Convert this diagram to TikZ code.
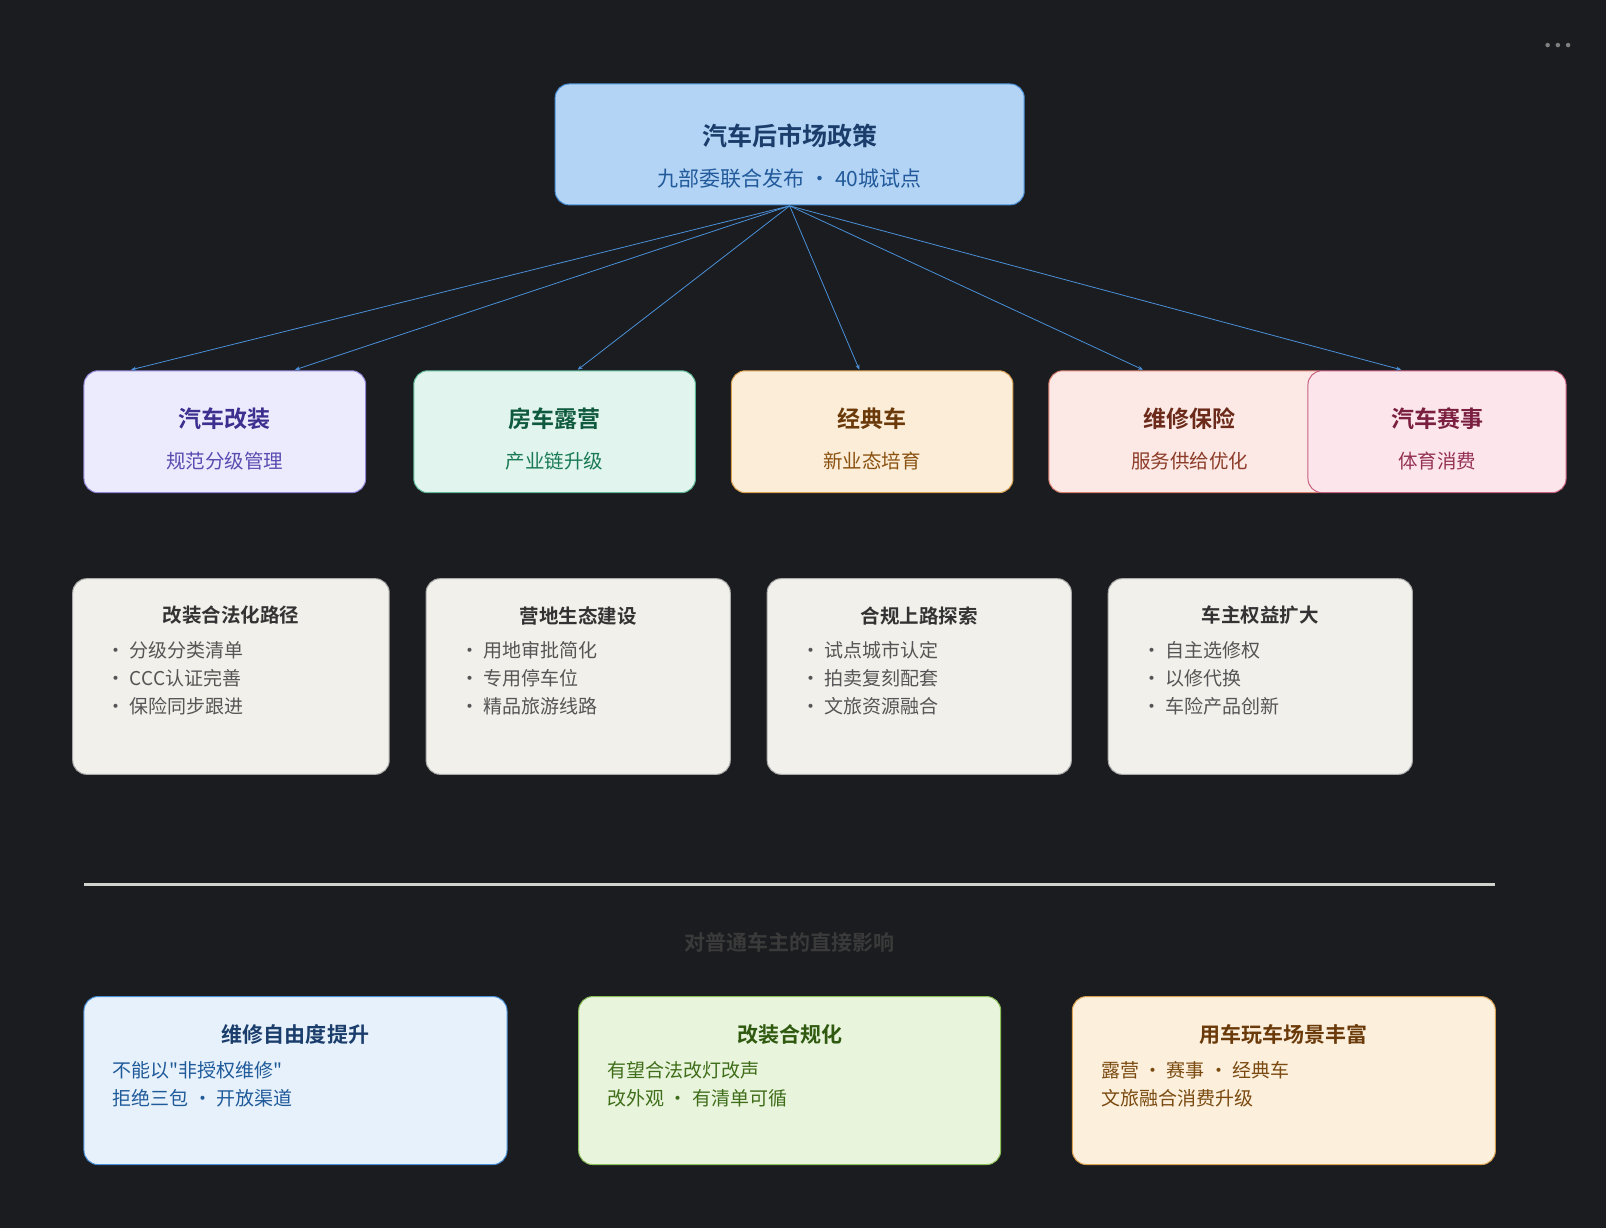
\documentclass[tikz,border=0pt]{standalone}
\usepackage{fontspec}
\newfontfamily\cjk{Noto Sans CJK SC}
\newfontfamily\cjkb{Noto Sans CJK SC Bold}
\usetikzlibrary{arrows.meta}
\definecolor{bg}{HTML}{1B1C1F}
\tikzset{
 x=1.024pt,y=-1.024pt,
 box/.style={rounded corners=14pt,line width=1pt},
 ttl/.style={font=\cjkb\fontsize{23}{28}\selectfont},
 sub/.style={font=\cjk\fontsize{19.5}{24}\selectfont},
 itm/.style={font=\cjk\fontsize{19}{28}\selectfont,align=left,anchor=north west,inner sep=0},
 arr/.style={line width=0.8pt,-{Stealth[length=5pt,width=4pt]}},
}
\begin{document}
\begin{tikzpicture}
\fill[bg] (0,0) rectangle (1568,1199);
\useasboundingbox (0,0) rectangle (1568,1199);
\foreach \i in {1511,1521,1531}{\fill[gray] (\i,44) circle (2.2);}
% top
\draw[box,fill={rgb,255:red,179;green,212;blue,245},draw={rgb,255:red,74;green,144;blue,217}] (542,82) rectangle (1000,200);
\node[font=\cjkb\fontsize{25}{30}\selectfont,text={rgb,255:red,26;green,61;blue,107}] at (771,133) {汽车后市场政策};
\node[font=\cjk\fontsize{21}{26}\selectfont,text={rgb,255:red,34;green,90;blue,155}] at (771,174) {九部委联合发布 · 40城试点};
\coordinate (top) at (771,201);
% row 2
\newcommand\rbox[8]{%
 \draw[box,fill={#5},draw={#6}] (#1,362) rectangle (#2,481);
 \node[ttl,text={#7}] at ({(#1+#2)/2},409) {#3};
 \node[sub,text={#8}] at ({(#1+#2)/2},450) {#4};}
\rbox{82}{357}{汽车改装}{规范分级管理}{rgb,255:red,236;green,235;blue,253}{rgb,255:red,143;green,134;blue,216}{rgb,255:red,60;green,47;blue,143}{rgb,255:red,90;green,75;blue,176}
\rbox{404}{679}{房车露营}{产业链升级}{rgb,255:red,225;green,245;blue,238}{rgb,255:red,93;green,184;blue,150}{rgb,255:red,15;green,90;blue,63}{rgb,255:red,26;green,122;blue,85}
\rbox{714}{989}{经典车}{新业态培育}{rgb,255:red,252;green,237;blue,216}{rgb,255:red,217;green,160;blue,80}{rgb,255:red,107;green,58;blue,10}{rgb,255:red,138;green,82;blue,16}
\rbox{1024}{1299}{维修保险}{服务供给优化}{rgb,255:red,252;green,233;blue,229}{rgb,255:red,217;green,128;blue,112}{rgb,255:red,107;green,42;blue,26}{rgb,255:red,140;green,60;blue,40}
\rbox{1277}{1529}{汽车赛事}{体育消费}{rgb,255:red,252;green,230;blue,236}{rgb,255:red,200;green,96;blue,128}{rgb,255:red,122;green,31;blue,63}{rgb,255:red,150;green,50;blue,85}
\foreach \x in {128,288,564,839,1116,1368}{\draw[arr,draw={rgb,255:red,74;green,144;blue,217}] (top) -- (\x,361);}
% row 3
\newcommand\gbox[6]{%
 \draw[box,fill={rgb,255:red,242;green,240;blue,235},draw={rgb,255:red,170;green,170;blue,170}] (#1,565) rectangle (#2,756);
 \node[font=\cjkb\fontsize{19.5}{24}\selectfont,text={rgb,255:red,51;green,51;blue,51}] at ({(#1+#2)/2},601) {#3};
 \node[itm,text={rgb,255:red,85;green,85;blue,85}] at ({#1+33},626) {· #4\\· #5\\· #6};}
\gbox{71}{380}{改装合法化路径}{分级分类清单}{CCC认证完善}{保险同步跟进}
\gbox{416}{713}{营地生态建设}{用地审批简化}{专用停车位}{精品旅游线路}
\gbox{749}{1046}{合规上路探索}{试点城市认定}{拍卖复刻配套}{文旅资源融合}
\gbox{1082}{1379}{车主权益扩大}{自主选修权}{以修代换}{车险产品创新}
% divider
\draw[line width=3pt,draw={rgb,255:red,210;green,210;blue,205}] (82,864) -- (1460,864);
\node[font=\cjkb\fontsize{21}{26}\selectfont,text={rgb,255:red,58;green,58;blue,58}] at (771,920) {对普通车主的直接影响};
% bottom
\definecolor{f1}{HTML}{E6F1FB}\definecolor{d1}{HTML}{4A90D9}\definecolor{t1}{HTML}{1A3D6B}\definecolor{s1}{HTML}{1F5A9A}
\definecolor{f2}{HTML}{E9F4DC}\definecolor{d2}{HTML}{8BBF5A}\definecolor{t2}{HTML}{2F5A10}\definecolor{s2}{HTML}{3F6E1A}
\definecolor{f3}{HTML}{FCEFDC}\definecolor{d3}{HTML}{D9A050}\definecolor{t3}{HTML}{6B3A0A}\definecolor{s3}{HTML}{7A4A10}
\newcommand\bbox[6]{%
 \draw[box,fill=f#6,draw=d#6] (#1,973) rectangle (#2,1137);
 \node[font=\cjkb\fontsize{21}{26}\selectfont,text=t#6] at ({(#1+#2)/2},1010) {#3};
 \node[itm,text=s#6] at ({#1+28},1036) {#4\\#5};}
\bbox{82}{495}{维修自由度提升}{不能以"非授权维修"}{拒绝三包 · 开放渠道}{1}
\bbox{565}{977}{改装合规化}{有望合法改灯改声}{改外观 · 有清单可循}{2}
\bbox{1047}{1460}{用车玩车场景丰富}{露营 · 赛事 · 经典车}{文旅融合消费升级}{3}
\end{tikzpicture}
\end{document}
